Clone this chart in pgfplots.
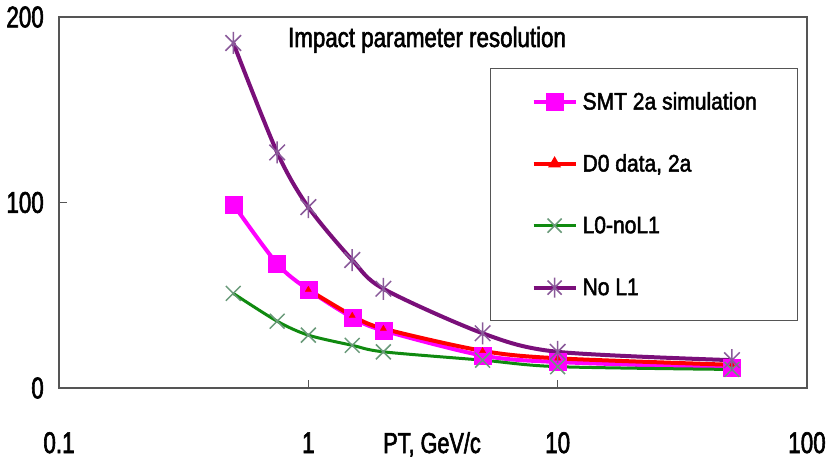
\documentclass[border=0pt]{standalone}
\usepackage{fontspec}
\setmainfont{Liberation Sans}[FakeStretch=0.75, FakeBold=2]
\newfontfamily\titlefont{Liberation Sans}[FakeStretch=0.8, FakeBold=2]
\newfontfamily\legfont{Liberation Sans}[FakeStretch=0.88, FakeBold=2]
\usepackage{pgfplots}
\pgfplotsset{compat=1.18}
\definecolor{axgray}{HTML}{555555}
\definecolor{smt}{HTML}{FF00FF}
\definecolor{dzero}{HTML}{FF0000}
\definecolor{lzero}{HTML}{108A10}
\definecolor{lzeromk}{HTML}{6A9A7A}
\definecolor{nol}{HTML}{7A0F7A}
\definecolor{nolmk}{HTML}{8A5A9A}
\pgfdeclareplotmark{xstar}{%
  \pgfpathmoveto{\pgfqpointpolar{45}{\pgfplotmarksize}}%
  \pgfpathlineto{\pgfqpointpolar{225}{\pgfplotmarksize}}%
  \pgfpathmoveto{\pgfqpointpolar{135}{\pgfplotmarksize}}%
  \pgfpathlineto{\pgfqpointpolar{315}{\pgfplotmarksize}}%
  \pgfpathmoveto{\pgfqpointpolar{90}{\pgfplotmarksize}}%
  \pgfpathlineto{\pgfqpointpolar{270}{\pgfplotmarksize}}%
  \pgfusepathqstroke}
\pgfdeclareplotmark{bigx}{%
  \pgfpathmoveto{\pgfqpointpolar{45}{\pgfplotmarksize}}%
  \pgfpathlineto{\pgfqpointpolar{225}{\pgfplotmarksize}}%
  \pgfpathmoveto{\pgfqpointpolar{135}{\pgfplotmarksize}}%
  \pgfpathlineto{\pgfqpointpolar{315}{\pgfplotmarksize}}%
  \pgfusepathqstroke}
\begin{document}
\begin{tikzpicture}
\begin{axis}[
  at={(0,0)}, anchor=south west,
  scale only axis, width=748bp, height=371bp,
  xmode=log, xmin=0.1, xmax=100, ymin=0, ymax=200,
  xtick={0.1,1,10,100}, xticklabels={0.1,1,10,100},
  ytick={0,100,200}, yticklabels={0,100,200},
  xminorticks=false,
  tick align=inside, major tick length=8bp,
  xtick pos=bottom, ytick pos=left,
  axis line style={axgray, line width=1.6bp},
  tick style={axgray, line width=1.2bp},
  xticklabel style={anchor=base, yshift=-65bp, inner sep=0pt, font=\fontsize{30}{30}\selectfont},
  yticklabel style={anchor=east, inner sep=0pt, xshift=-15bp, font=\fontsize{30}{30}\selectfont},
  xlabel={PT, GeV/c},
  xlabel style={at={(axis description cs:0.4987,0)}, anchor=base, yshift=-65bp, inner sep=0pt, font=\fontsize{29}{29}\selectfont},
  legend style={at={(0.5762,0.8625)}, anchor=north west, draw=axgray, line width=1.2bp,
    inner xsep=41bp, inner ysep=23bp, row sep=42bp, column sep=5bp,
    nodes={inner sep=0pt, minimum height=20bp, anchor=west},
    font=\legfont\fontsize{24}{24}\selectfont},
  legend cell align=left,
  legend image code/.code={\draw[mark repeat=2,mark phase=2,#1] plot coordinates {(0bp,0bp) (21bp,0bp) (42bp,0bp)};},
]
% lines
\addplot[smt, line width=4bp, smooth, forget plot] coordinates {
 (0.5,99) (0.75,67) (1,53) (1.5,38) (2,31) (5,17.5) (10,14) (50,11)};
\addplot[dzero, line width=4bp, smooth, forget plot] coordinates {
 (1,53) (1.5,39) (2,32) (5,20) (10,16) (50,12.5)};
\addplot[lzero, line width=3bp, smooth, forget plot] coordinates {
 (0.5,51) (0.75,36) (1,28.5) (1.5,23) (2,19.5) (5,15) (10,11.5) (50,10)};
\addplot[nol, line width=4bp, smooth, forget plot] coordinates {
 (0.5,186) (0.75,127) (1,97.5) (1.5,69) (2,53.5) (5,29.5) (10,19.5) (50,15)};
% markers
\addplot[only marks, mark=square*, mark size=8.5bp, smt, forget plot] coordinates {
 (0.5,99) (0.75,67) (1,53) (1.5,38) (2,31) (5,17.5) (10,14) (50,11)};
\addplot[only marks, mark=triangle*, mark size=3.5bp, dzero, forget plot] coordinates {
 (1,53) (1.5,39) (2,32) (5,20) (10,16) (50,12.5)};
\addplot[only marks, mark=bigx, mark size=10.5bp, lzeromk, line width=1.5bp, forget plot] coordinates {
 (0.5,51) (0.75,36) (1,28.5) (1.5,23) (2,19.5) (5,15) (10,11.5) (50,10)};
\addplot[only marks, mark=xstar, mark size=11bp, nolmk, line width=1.5bp, forget plot] coordinates {
 (0.5,186) (0.75,127) (1,97.5) (1.5,69) (2,53.5) (5,29.5) (10,19.5) (50,15)};
% legend
\addlegendimage{smt, line width=4bp, mark=square*, mark size=7bp}
\addlegendentry{SMT 2a simulation}
\addlegendimage{dzero, line width=4bp, mark=triangle*, mark size=3.5bp}
\addlegendentry{D0 data, 2a}
\addlegendimage{lzero, line width=3bp, mark=bigx, mark size=10bp, mark options={lzeromk, line width=1.5bp}}
\addlegendentry{L0-noL1}
\addlegendimage{nol, line width=4bp, mark=xstar, mark size=10bp, mark options={nolmk, line width=1.5bp}}
\addlegendentry{No L1}
\node[anchor=base, yshift=-30bp, inner sep=0pt, font=\titlefont\fontsize{28}{28}\selectfont] at (rel axis cs:0.492,1) {Impact parameter resolution};
\end{axis}
\pgfresetboundingbox
\path[use as bounding box] (-59bp,-74bp) rectangle (771bp,388bp);
\end{tikzpicture}
\end{document}
